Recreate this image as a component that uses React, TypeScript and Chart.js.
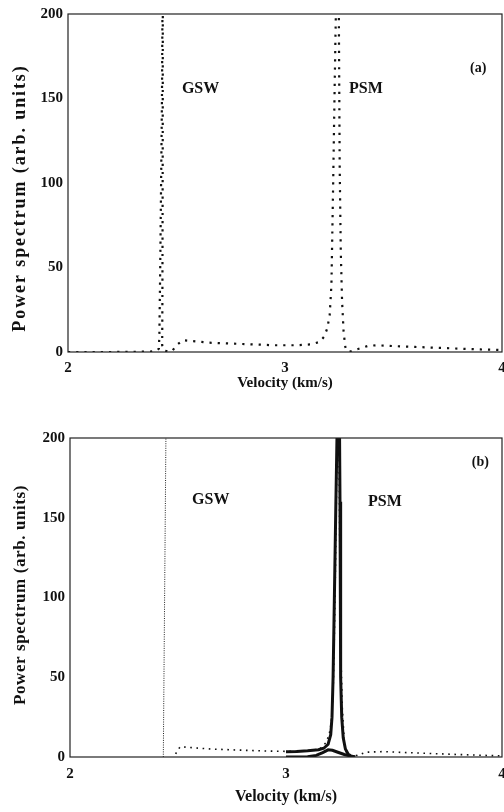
import { useEffect, useRef } from "react";
import { Chart, registerables } from "chart.js";

Chart.register(...registerables);

const FONT = '"Liberation Serif", "Times New Roman", serif';

// ---- shared axis content ----
const xTickValues = [2, 3, 4];
const yTickValues = [0, 50, 100, 150, 200];
const xTitle = "Velocity (km/s)";
const yTitle = "Power spectrum (arb. units)";

// ---- panel (a): dotted power spectrum ----
const aVelocity = [
  2.0, 2.1, 2.2, 2.3, 2.38, 2.41, 2.419, 2.421, 2.425, 2.429, 2.433, 2.436, 2.4365, 2.437, 2.4365, 2.435,
  2.434, 2.44, 2.46, 2.48, 2.5, 2.53, 2.57, 2.65, 2.75, 2.85, 2.95, 3.05, 3.12, 3.16, 3.18, 3.195, 3.206,
  3.214, 3.222, 3.228, 3.233, 3.238, 3.2425, 3.247, 3.252, 3.257, 3.263, 3.27, 3.278, 3.286, 3.3, 3.33,
  3.38, 3.42, 3.5, 3.6, 3.7, 3.8, 3.9, 4.0,
];
const aPower = [
  0, 0, 0, 0.1, 0.3, 0.8, 2, 10, 50, 100, 150, 220, 260, 220, 120, 30,
  4, 1, 0.3, 0.5, 4, 7, 6.5, 5.5, 5, 4.5, 4, 4, 4.5, 6, 9, 14, 22,
  40, 100, 150, 190, 225, 260, 225, 110, 60, 30, 12, 3, 0.5, 0.3, 1.5,
  3.5, 4, 3.5, 3, 2.5, 2, 1.5, 1.2,
];
const aLabels = ["GSW", "PSM", "(a)"];
const aLabelVelocity = [2.525, 3.295, 3.853];
const aLabelPower = [156, 156, 168];

// ---- panel (b) ----
const bGswVelocity = [2.432, 2.444, 2.4445];
const bGswPower = [0, 200, 215];

const bDotVelocity = [
  2.489, 2.51, 2.55, 2.65, 2.75, 2.85, 2.95, 3.05, 3.12, 3.16, 3.185, 3.2, 3.21, 3.218, 3.223, 3.228,
  3.233, 3.238, 3.2415, 3.245, 3.25, 3.255, 3.261, 3.27, 3.28, 3.3, 3.33, 3.37, 3.45, 3.55, 3.65, 3.75,
  3.85, 3.95, 4.0,
];
const bDotPower = [
  2, 6.5, 6, 5, 4.5, 4, 3.6, 3.5, 4, 5.5, 9, 14, 22, 40, 70, 110,
  160, 210, 260, 210, 110, 60, 30, 10, 3, 0.5, 1, 3, 3.4, 2.8, 2.3, 1.8,
  1.3, 0.9, 0.7,
];

const bUpperVelocity = [
  3.0, 3.05, 3.1, 3.15, 3.175, 3.195, 3.207, 3.213, 3.218, 3.224, 3.231, 3.236, 3.242, 3.248, 3.25,
  3.252, 3.254, 3.258, 3.265, 3.275, 3.287, 3.3, 3.32,
];
const bUpperPower = [
  3.3, 3.5, 3.9, 4.6, 5.5, 8, 14, 25, 50, 100, 160, 200, 240, 200, 160,
  100, 50, 25, 12, 5, 2, 0.6, 0,
];

const bLowerVelocity = [3.0, 3.05, 3.1, 3.14, 3.17, 3.195, 3.215, 3.24, 3.27, 3.3, 3.32];
const bLowerPower = [0, 0, 0.2, 1, 2.8, 4.5, 4.2, 3, 1.6, 0.5, 0];

const bLabels = ["GSW", "PSM", "(b)"];
const bLabelVelocity = [2.565, 3.38, 3.86];
const bLabelPower = [161, 160, 184.5];

const pts = (xs: number[], ys: number[]) => xs.map((x, i) => ({ x, y: ys[i] }));

const panelPlugin = {
  id: "panelText",
  afterDraw(chart: any, _args: any, opts: any) {
    const { ctx, chartArea, scales } = chart;
    const x = scales.x;
    const y = scales.y;
    ctx.save();
    // frame
    ctx.strokeStyle = "#222";
    ctx.lineWidth = 1.2;
    ctx.strokeRect(chartArea.left, chartArea.top, chartArea.right - chartArea.left, chartArea.bottom - chartArea.top);
    // annotations
    ctx.fillStyle = "#111";
    ctx.textBaseline = "middle";
    ctx.textAlign = "left";
    opts.labels.forEach((t: string, i: number) => {
      ctx.font = `bold ${opts.labelSizes[i]}px ${FONT}`;
      ctx.fillText(t, x.getPixelForValue(opts.xs[i]), y.getPixelForValue(opts.ys[i]));
    });
    // y title
    ctx.translate(opts.yTitleX, opts.yTitleY);
    ctx.rotate(-Math.PI / 2);
    ctx.font = `bold ${opts.yTitleSize}px ${FONT}`;
    (ctx as any).letterSpacing = `${opts.yTitleSpacing}px`;
    ctx.textAlign = "center";
    ctx.fillText(yTitle, 0, 0);
    ctx.restore();
  },
};

type PanelProps = {
  top: number;
  height: number;
  padTop: number;
  yAxisWidth: number;
  xAxisHeight: number;
  xTickPad: number;
  xTitleSize: number;
  xTitlePadBottom: number;
  datasets: any[];
  text: any;
};

function Panel(p: PanelProps) {
  const ref = useRef<HTMLCanvasElement | null>(null);
  useEffect(() => {
    if (!ref.current) return;
    const chart = new Chart(ref.current, {
      type: "line",
      data: { datasets: p.datasets },
      plugins: [panelPlugin],
      options: {
        animation: false,
        responsive: false,
        events: [],
        layout: { padding: { top: p.padTop, right: 20, left: 0, bottom: 0 } },
        elements: { point: { radius: 0 }, line: { tension: 0 } },
        plugins: {
          legend: { display: false },
          tooltip: { enabled: false },
          panelText: p.text,
        } as any,
        scales: {
          x: {
            type: "linear",
            min: 2,
            max: 4,
            afterBuildTicks: (s: any) => {
              s.ticks = xTickValues.map((v) => ({ value: v }));
            },
            afterFit: (s: any) => {
              s.height = p.xAxisHeight;
            },
            grid: { display: false, drawTicks: false },
            border: { display: false },
            ticks: {
              color: "#111",
              padding: p.xTickPad,
              maxRotation: 0,
              autoSkip: false,
              font: { family: FONT, size: 15, weight: "bold" },
            },
            title: {
              display: true,
              text: xTitle,
              color: "#111",
              padding: { top: 0, bottom: p.xTitlePadBottom },
              font: { family: FONT, size: p.xTitleSize, weight: "bold" },
            },
          },
          y: {
            type: "linear",
            min: 0,
            max: 200,
            afterBuildTicks: (s: any) => {
              s.ticks = yTickValues.map((v) => ({ value: v }));
            },
            afterFit: (s: any) => {
              s.width = p.yAxisWidth;
            },
            grid: { display: false, drawTicks: false },
            border: { display: false },
            ticks: {
              color: "#111",
              padding: 5,
              font: { family: FONT, size: 15, weight: "bold" },
            },
            title: { display: false },
          },
        },
      } as any,
    });
    return () => chart.destroy();
  }, []);
  return (
    <div style={{ position: "absolute", left: 0, top: p.top, width: 504, height: p.height, overflow: "hidden" }}>
      <canvas ref={ref} width={522} height={p.height} style={{ width: 522, height: p.height, display: "block" }} />
    </div>
  );
}

export default function App() {
  const dotted = {
    borderColor: "#111",
    borderWidth: 2.2,
    borderDash: [2.2, 6],
    pointRadius: 0,
    fill: false,
  };
  const aDatasets = [{ ...dotted, data: pts(aVelocity, aPower) }];
  const bDatasets = [
    { borderColor: "#222", borderWidth: 1, borderDash: [1, 1.3], pointRadius: 0, fill: false, data: pts(bGswVelocity, bGswPower) },
    { borderColor: "#111", borderWidth: 1.6, borderDash: [1.6, 4.6], pointRadius: 0, fill: false, data: pts(bDotVelocity, bDotPower) },
    { borderColor: "#111", borderWidth: 3, pointRadius: 0, fill: false, data: pts(bUpperVelocity, bUpperPower) },
    { borderColor: "#111", borderWidth: 3, pointRadius: 0, fill: false, data: pts(bLowerVelocity, bLowerPower) },
  ];
  return (
    <div style={{ position: "fixed", left: 0, top: 0, width: 504, height: 812, background: "#fff", overflow: "hidden" }}>
      <Panel
        top={0}
        height={400}
        padTop={10}
        yAxisWidth={68}
        xAxisHeight={48}
        xTickPad={7}
        xTitleSize={15}
        xTitlePadBottom={8}
        datasets={aDatasets}
        text={{
          labels: aLabels,
          xs: aLabelVelocity,
          ys: aLabelPower,
          labelSizes: [16, 16, 14],
          yTitleX: 20,
          yTitleY: 198,
          yTitleSize: 18,
          yTitleSpacing: 1.9,
        }}
      />
      <Panel
        top={400}
        height={412}
        padTop={38}
        yAxisWidth={70}
        xAxisHeight={55}
        xTickPad={8}
        xTitleSize={16}
        xTitlePadBottom={6}
        datasets={bDatasets}
        text={{
          labels: bLabels,
          xs: bLabelVelocity,
          ys: bLabelPower,
          labelSizes: [16, 16, 14],
          yTitleX: 21,
          yTitleY: 195,
          yTitleSize: 17,
          yTitleSpacing: 0.6,
        }}
      />
    </div>
  );
}
